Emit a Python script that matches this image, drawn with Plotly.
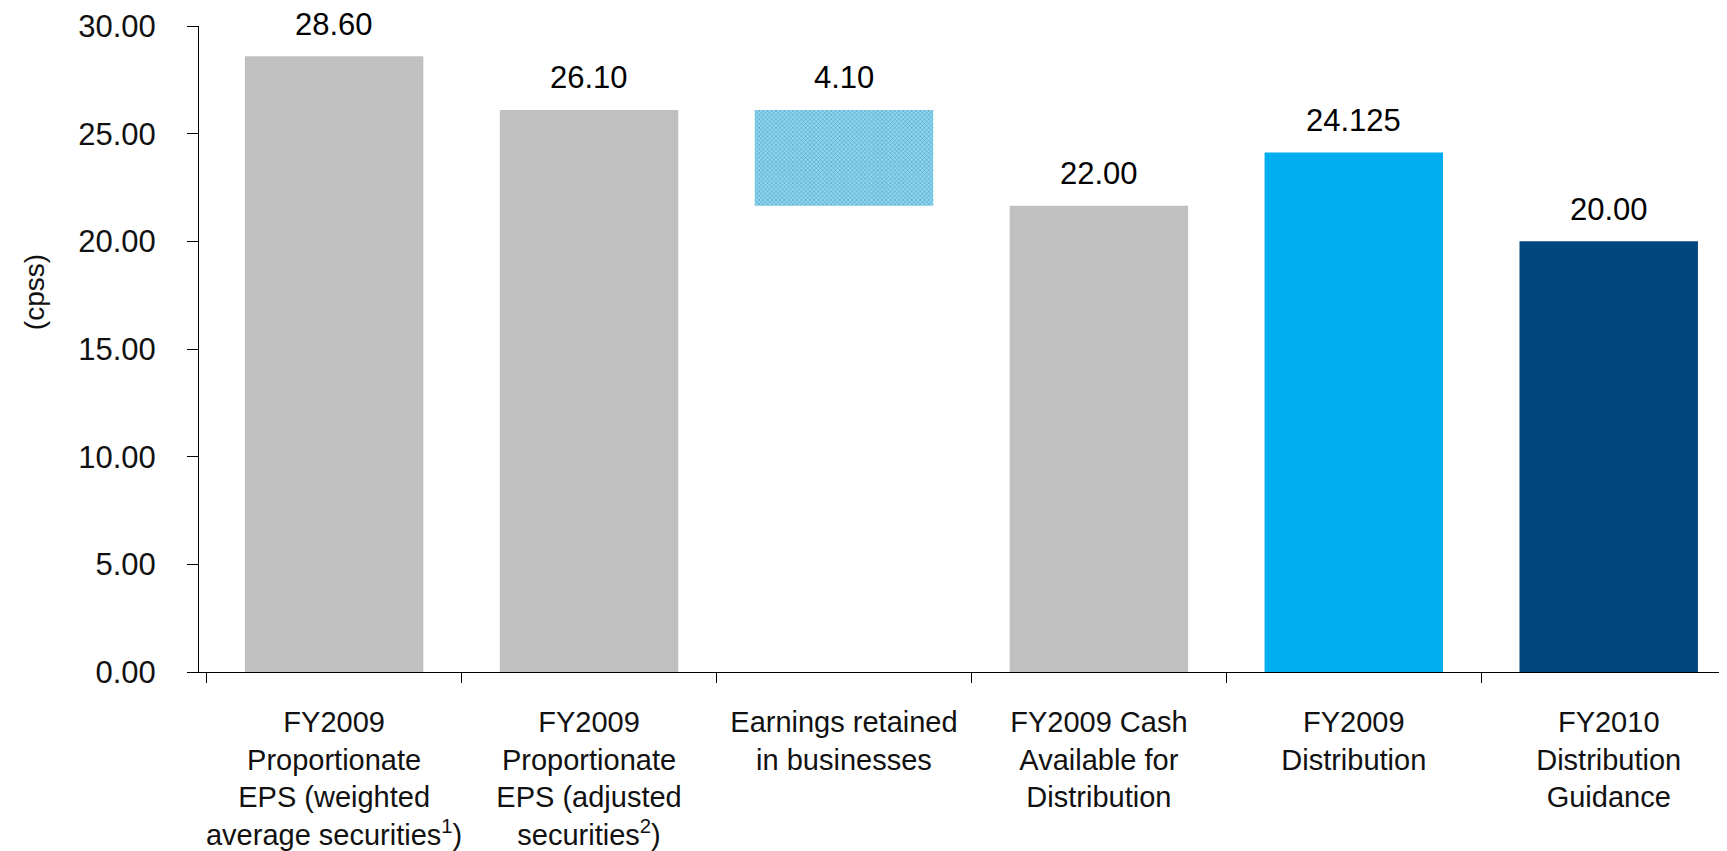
import plotly.graph_objects as go

categories = [
    "FY2009<br>Proportionate<br>EPS (weighted<br>average securities<sup>1</sup>)",
    "FY2009<br>Proportionate<br>EPS (adjusted<br>securities<sup>2</sup>)",
    "Earnings retained<br>in businesses",
    "FY2009 Cash<br>Available for<br>Distribution",
    "FY2009<br>Distribution",
    "FY2010<br>Distribution<br>Guidance",
]
bar_heights = [28.60, 26.10, 4.45, 21.65, 24.125, 20.00]
bar_bases = [0, 0, 21.65, 0, 0, 0]
value_labels = ["28.60", "26.10", "4.10", "22.00", "24.125", "20.00"]
bar_colors = ["#C0C0C0", "#C0C0C0", "#85D8F8", "#C0C0C0", "#00AEEF", "#00467F"]
pattern_shapes = ["", "", "x", "", "", ""]
y_ticks = [0, 5, 10, 15, 20, 25, 30]

FONT = "Liberation Sans, Arial, sans-serif"

fig = go.Figure()
fig.add_trace(go.Bar(
    x=categories,
    y=bar_heights,
    base=bar_bases,
    width=0.70,
    marker=dict(
        color=bar_colors,
        line=dict(width=0),
        pattern=dict(shape=pattern_shapes, fgcolor="#7DD4F6", size=3, solidity=0.3),
    ),
    showlegend=False,
    hoverinfo="skip",
))

for cat, b, h, lab in zip(categories, bar_bases, bar_heights, value_labels):
    fig.add_annotation(
        x=cat, y=b + h, text=lab, showarrow=False,
        xanchor="center", yanchor="middle", yshift=32,
        font=dict(family=FONT, size=31, color="#000000"),
    )

fig.add_annotation(
    xref="paper", yref="paper", x=-0.108, y=0.588,
    text="(cpss)", textangle=-90, showarrow=False,
    xanchor="center", yanchor="middle",
    font=dict(family=FONT, size=28, color="#111111"),
)

fig.update_layout(
    width=1719, height=843,
    margin=dict(l=191, r=0, t=18, b=179),
    paper_bgcolor="white", plot_bgcolor="white",
    bargap=0.3,
    xaxis=dict(
        type="category",
        range=[-0.53, 5.464],
        automargin=False,
        tickangle=0,
        showline=True, linecolor="#000000", linewidth=1,
        ticks="outside", ticklen=10, tickcolor="#000000", tickwidth=1,
        tickson="boundaries",
        showgrid=False, zeroline=False,
        tickfont=dict(family=FONT, size=29, color="#111111"),
        ticklabelstandoff=24,
    ),
    yaxis=dict(
        range=[0, 30],
        automargin=False,
        tickvals=y_ticks,
        tickformat=".2f",
        showline=True, linecolor="#000000", linewidth=1,
        ticks="outside", ticklen=11, tickcolor="#000000", tickwidth=1,
        showgrid=False, zeroline=False,
        tickfont=dict(family=FONT, size=31, color="#111111"),
        ticklabelstandoff=25,
    ),
)

fig.write_html("out.html")
